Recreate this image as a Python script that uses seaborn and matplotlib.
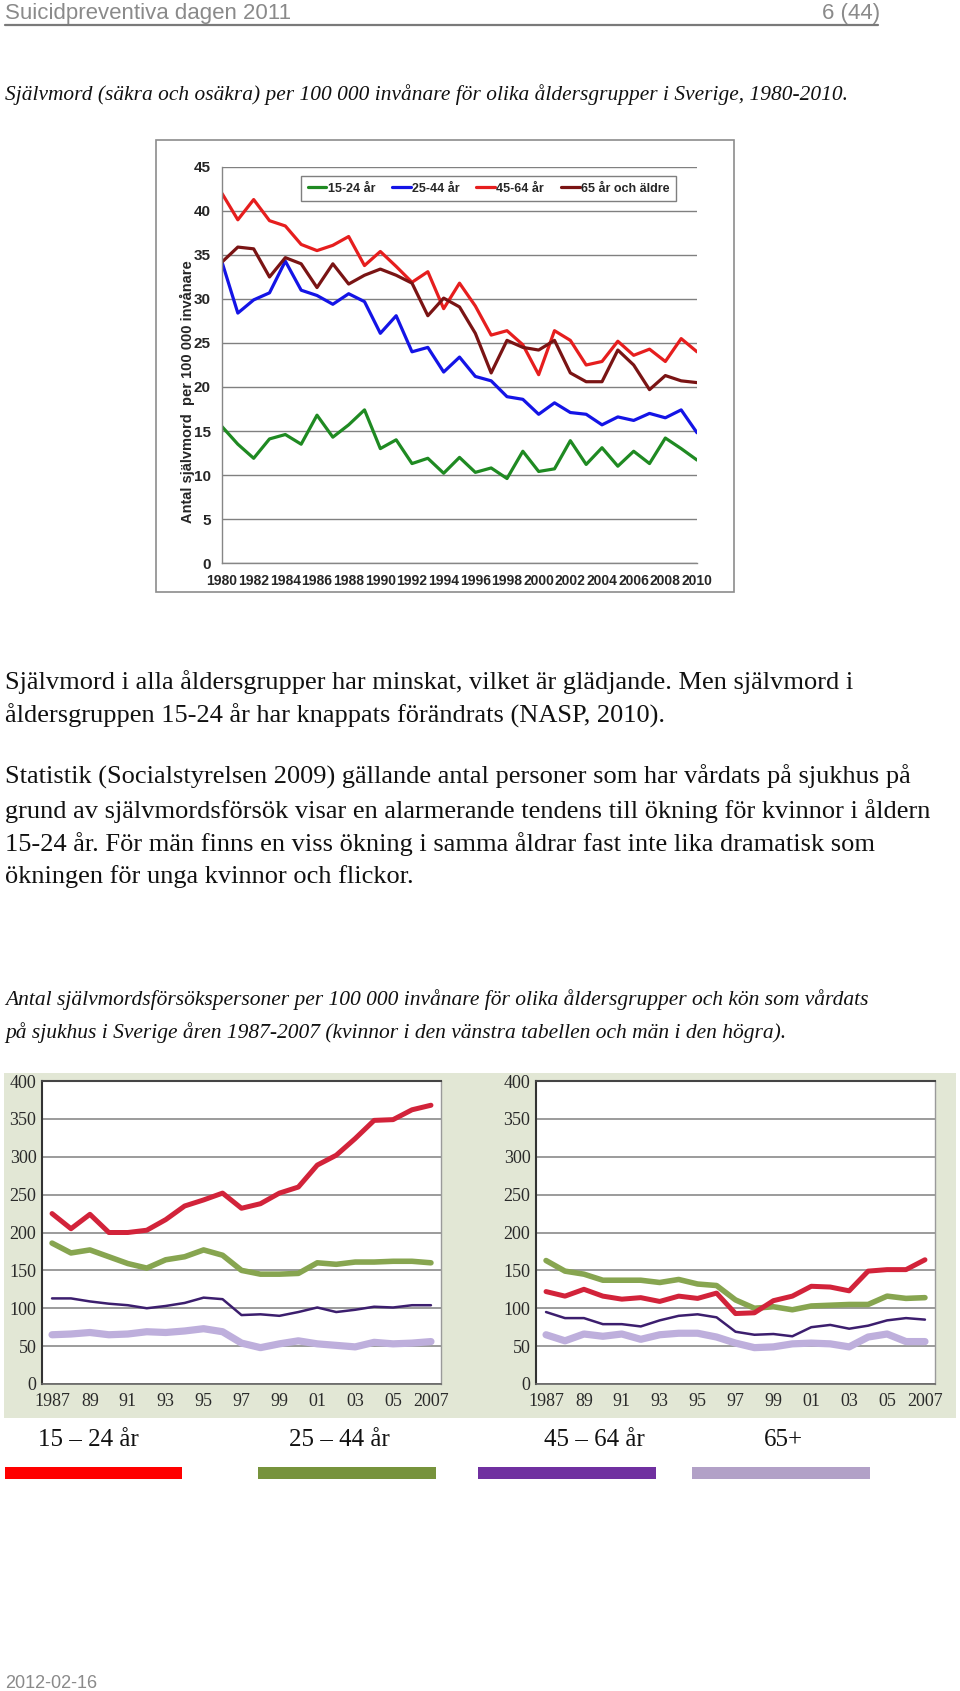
import numpy as np
import pandas as pd
import matplotlib
matplotlib.use("Agg")
import matplotlib.pyplot as plt
import seaborn as sns
from matplotlib.patches import Rectangle
from matplotlib.lines import Line2D
from matplotlib.ticker import MultipleLocator

# ---------------- data ----------------
years_top = list(range(1980, 2011))
top_groups = ["15-24 år", "25-44 år", "45-64 år", "65 år och äldre"]
rate_15_24 = [15.5, 13.5, 11.9, 14.1, 14.6, 13.5, 16.8, 14.3, 15.7, 17.4, 13.0, 14.0, 11.3, 11.9, 10.2, 12.0,
              10.3, 10.8, 9.6, 12.7, 10.4, 10.7, 13.9, 11.2, 13.1, 11.0, 12.7, 11.3, 14.2, 13.0, 11.7]
rate_25_44 = [34.2, 28.4, 29.9, 30.7, 34.3, 31.0, 30.4, 29.4, 30.6, 29.7, 26.1, 28.1, 24.0, 24.5, 21.7, 23.4,
              21.2, 20.7, 18.9, 18.6, 16.9, 18.2, 17.1, 16.9, 15.7, 16.6, 16.2, 17.0, 16.5, 17.4, 14.8]
rate_45_64 = [42.0, 39.0, 41.3, 38.9, 38.3, 36.2, 35.5, 36.1, 37.1, 33.8, 35.4, 33.7, 31.9, 33.1, 28.9, 31.8,
              29.2, 25.9, 26.4, 24.8, 21.4, 26.4, 25.3, 22.5, 22.9, 25.2, 23.6, 24.3, 22.9, 25.5, 24.0]
rate_65_plus = [34.2, 35.9, 35.7, 32.5, 34.7, 34.0, 31.3, 34.0, 31.7, 32.7, 33.4, 32.7, 31.8, 28.1, 30.1, 29.1,
                26.1, 21.6, 25.3, 24.5, 24.2, 25.3, 21.6, 20.6, 20.6, 24.2, 22.5, 19.7, 21.3, 20.7, 20.5]
top_xticks = list(range(1980, 2011, 2))
top_yticks = [0, 5, 10, 15, 20, 25, 30, 35, 40, 45]

years_bottom = list(range(1987, 2008))
bottom_groups = ["15 – 24 år", "25 – 44 år", "45 – 64 år", "65+"]
women_15_24 = [225, 205, 224, 200, 200, 203, 217, 235, 243, 252, 232, 238, 252, 260, 289, 302, 324, 348, 349, 362, 368]
women_25_44 = [186, 173, 177, 168, 159, 153, 164, 168, 177, 170, 150, 145, 145, 146, 160, 158, 161, 161, 162, 162, 160]
women_45_64 = [113, 113, 109, 106, 104, 100, 103, 107, 114, 112, 91, 92, 90, 95, 101, 95, 98, 102, 101, 104, 104]
women_65_plus = [65, 66, 68, 65, 66, 69, 68, 70, 73, 69, 54, 48, 53, 57, 53, 51, 49, 55, 53, 54, 56]
men_15_24 = [122, 116, 125, 116, 112, 114, 109, 116, 113, 120, 93, 94, 110, 116, 129, 128, 123, 149, 151, 151, 164]
men_25_44 = [163, 149, 145, 137, 137, 137, 134, 138, 132, 130, 111, 100, 102, 98, 103, 104, 105, 105, 116, 113, 114]
men_45_64 = [95, 87, 87, 79, 79, 76, 84, 90, 92, 88, 69, 65, 66, 63, 75, 78, 73, 77, 84, 87, 85]
men_65_plus = [65, 57, 66, 63, 66, 59, 65, 67, 67, 62, 54, 48, 49, 53, 54, 53, 49, 62, 66, 56, 56]
bottom_xtick_labels = ["1987", "", "89", "", "91", "", "93", "", "95", "", "97", "", "99", "", "01", "",
                       "03", "", "05", "", "2007"]
bottom_yticks = [0, 50, 100, 150, 200, 250, 300, 350, 400]

# ---------------- styles ----------------
W, H = 960, 1691
sns.set_style("white")
plt.rcParams["font.family"] = ["Liberation Sans", "DejaVu Sans"]

top_palette = {"15-24 år": "#1f8a22", "25-44 år": "#1414e6", "45-64 år": "#e61e1e", "65 år och äldre": "#7a1414"}
bottom_colors = {"15 – 24 år": "#d2233a", "25 – 44 år": "#87a550", "45 – 64 år": "#3c1e6e", "65+": "#beafdc"}
bottom_widths = {"15 – 24 år": 3.6, "25 – 44 år": 4.0, "45 – 64 år": 1.8, "65+": 5.2}
legend_bar_colors = ["#ff0000", "#77933c", "#7030a0", "#b2a1c7"]


def rect(x0, y0, x1, y1):
    return [x0 / W, 1 - y1 / H, (x1 - x0) / W, (y1 - y0) / H]


def fy(y):
    return 1 - y / H


fig = plt.figure(figsize=(W / 100, H / 100), dpi=100, facecolor="white")

# ---------------- header ----------------
gray = "#8a8a8a"
fig.text(5 / W, fy(13), "Suicidpreventiva dagen 2011", color=gray, fontsize=16, va="center", ha="left")
fig.text(880 / W, fy(13), "6 (44)", color=gray, fontsize=16, va="center", ha="right")
fig.add_artist(Line2D([5 / W, 878 / W], [fy(25), fy(25)], transform=fig.transFigure, color="#7a7a7a", lw=1.6))

serif = ["Liberation Serif", "DejaVu Serif"]
fig.text(5 / W, fy(95), "Självmord (säkra och osäkra) per 100 000 invånare för olika åldersgrupper i Sverige, 1980-2010.",
         family=serif, style="italic", fontsize=15.4, va="center", ha="left", color="#111111")

# ---------------- top chart ----------------
fig.add_artist(Rectangle((156 / W, fy(592)), (734 - 156) / W, (592 - 140) / H, transform=fig.transFigure,
                         fill=False, edgecolor="#8c8c8c", lw=1.2))
ax = fig.add_axes(rect(222, 167, 697, 563))
top_df = pd.DataFrame({
    "År": years_top * 4,
    "Värde": rate_15_24 + rate_25_44 + rate_45_64 + rate_65_plus,
    "Grupp": sum([[g] * len(years_top) for g in top_groups], []),
})
sns.lineplot(data=top_df, x="År", y="Värde", hue="Grupp", hue_order=top_groups, palette=top_palette,
             linewidth=2.3, legend=False, ax=ax)
ax.set_xlim(1980, 2010)
ax.set_ylim(0, 45)
ax.set_xticks(top_xticks)
ax.xaxis.set_minor_locator(MultipleLocator(1))
ax.set_yticks(top_yticks)
ax.set_xlabel("")
ax.set_ylabel("")
ax.yaxis.grid(True, color="#808080", lw=1)
ax.set_axisbelow(True)
for s in ["top", "right"]:
    ax.spines[s].set_visible(False)
for s in ["left", "bottom"]:
    ax.spines[s].set_color("#868686")
    ax.spines[s].set_linewidth(1)
ax.tick_params(axis="both", which="both", length=3, width=1, color="#868686", direction="out")
ax.tick_params(axis="x", which="major", pad=5, labelsize=10)
ax.tick_params(axis="y", pad=5, labelsize=11)
for lab in ax.get_xticklabels() + ax.get_yticklabels():
    lab.set_fontweight("bold")

handles = [Line2D([], [], color=top_palette[g], lw=2.3) for g in top_groups]
ax.legend(handles, top_groups, ncol=4, loc="center", bbox_to_anchor=((300 + 677) / 2 / W, fy(188.5)),
          bbox_transform=fig.transFigure, frameon=True, fancybox=False, edgecolor="#7f7f7f",
          prop=dict(weight="bold", size=9), handlelength=1.5, handletextpad=0.1, columnspacing=1.35,
          borderpad=0.5, framealpha=1)
fig.text(187 / W, fy(392), "Antal självmord  per 100 000 invånare", rotation=90, ha="center", va="center",
         fontweight="bold", fontsize=10.5)

# ---------------- paragraphs ----------------
para = [
    (682, "Självmord i alla åldersgrupper har minskat, vilket är glädjande. Men självmord i"),
    (716, "åldersgruppen 15-24 år har knappats förändrats (NASP, 2010)."),
    (777, "Statistik (Socialstyrelsen 2009) gällande antal personer som har vårdats på sjukhus på"),
    (811, "grund av självmordsförsök visar en alarmerande tendens till ökning för kvinnor i åldern"),
    (844, "15-24 år. För män finns en viss ökning i samma åldrar fast inte lika dramatisk som"),
    (877, "ökningen för unga kvinnor och flickor."),
]
for y, t in para:
    fig.text(5 / W, fy(y), t, family=serif, fontsize=19, va="center", ha="left", color="#111111")

fig.text(5 / W, fy(1000), "Antal självmordsförsökspersoner per 100 000 invånare för olika åldersgrupper och kön som vårdats",
         family=serif, style="italic", fontsize=15.5, va="center", ha="left", color="#111111")
fig.text(5 / W, fy(1033), "på sjukhus i Sverige åren 1987-2007 (kvinnor i den vänstra tabellen och män i den högra).",
         family=serif, style="italic", fontsize=15.5, va="center", ha="left", color="#111111")

# ---------------- bottom charts ----------------
fig.add_artist(Rectangle((4 / W, fy(1418)), (956 - 4) / W, (1418 - 1073) / H, transform=fig.transFigure,
                         facecolor="#e2e7d5", edgecolor="none", zorder=-5))


def bottom_panel(axb, series):
    for g, vals in zip(bottom_groups[::-1], series[::-1]):
        sns.lineplot(x=years_bottom, y=vals, color=bottom_colors[g], linewidth=bottom_widths[g],
                     ax=axb, legend=False, solid_capstyle="round")
    axb.set_facecolor("white")
    axb.set_xlim(1986.47, 2007.53)
    axb.set_ylim(0, 400)
    axb.set_xticks(years_bottom)
    axb.set_xticklabels(bottom_xtick_labels)
    axb.set_yticks(bottom_yticks)
    axb.yaxis.grid(True, color="#8a8a8a", lw=1.2)
    axb.set_axisbelow(True)
    axb.spines["left"].set_color("#333333")
    axb.spines["left"].set_linewidth(1.5)
    axb.spines["top"].set_color("#444444")
    axb.spines["top"].set_linewidth(1.5)
    axb.spines["right"].set_color("#9a9a9a")
    axb.spines["right"].set_linewidth(1)
    axb.spines["bottom"].set_color("#666666")
    axb.spines["bottom"].set_linewidth(1.2)
    axb.tick_params(axis="x", length=4.3, width=1, color="#777777", pad=2, labelsize=13, labelcolor="#2a2a2a")
    axb.tick_params(axis="y", length=0, pad=4, labelsize=13, labelcolor="#2a2a2a")
    for lab in axb.get_xticklabels() + axb.get_yticklabels():
        lab.set_fontfamily(serif)
    axb.set_xlabel("")
    axb.set_ylabel("")


axl = fig.add_axes(rect(42, 1081, 441, 1384))
bottom_panel(axl, [women_15_24, women_25_44, women_45_64, women_65_plus])
axr = fig.add_axes(rect(536, 1081, 935, 1384))
bottom_panel(axr, [men_15_24, men_25_44, men_45_64, men_65_plus])

# legend text + bars
legend_x = [38, 289, 544, 764]
bar_x = [(5, 182), (258, 436), (478, 656), (692, 870)]
for g, x, (b0, b1), c in zip(bottom_groups, legend_x, bar_x, legend_bar_colors):
    fig.text(x / W, fy(1440), g, family=serif, fontsize=18, va="center", ha="left", color="#111111")
    fig.add_artist(Rectangle((b0 / W, fy(1479)), (b1 - b0) / W, 12 / H, transform=fig.transFigure,
                             facecolor=c, edgecolor="none"))

fig.text(5 / W, fy(1683), "2012-02-16", color=gray, fontsize=13, va="center", ha="left")

fig.savefig("out.png", dpi=100, facecolor="white")
